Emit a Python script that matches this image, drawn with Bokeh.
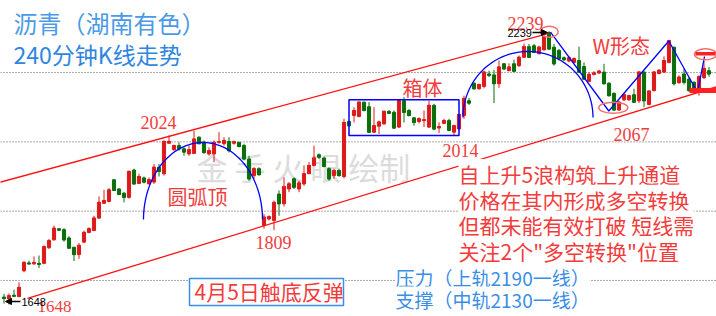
import numpy as np
from bokeh.plotting import figure
from bokeh.models import Range1d, Label, Span, Arrow, NormalHead
from bokeh.embed import file_html
from bokeh.resources import INLINE
from bokeh.core.properties import value

# ---------------- data (240-minute candles) ----------------
opens = [1664, 1660, 1668, 1665, 1721, 1738, 1736, 1737, 1737, 1771,
         1788, 1812, 1810, 1792, 1772, 1756, 1783, 1804, 1808, 1835,
         1867, 1871, 1918, 1898, 1889, 1880, 1939, 1910, 1922, 1909,
         1913, 1945, 1931, 1997, 1983, 1992, 1985, 1974, 1975, 2010,
         1999, 1974, 1974, 1999, 1996, 2001, 1997, 1999, 1992, 1963,
         1927, 1942, 1819, 1833, 1830, 1887, 1866, 1898, 1920, 1898,
         1909, 1931, 1949, 1972, 1965, 1942, 1927, 1938, 1925, 2044,
         2057, 2055, 2086, 2076, 2021, 2034, 2039, 2066, 2064, 2032,
         2089, 2068, 2052, 2044, 2046, 2032, 2079, 2030, 2040, 2046,
         2021, 2028, 2057, 2089, 2127, 2115, 2120, 2147, 2145, 2126,
         2169, 2154, 2169, 2165, 2183, 2206, 2208, 2191, 2199, 2237,
         2205, 2198, 2182, 2175, 2172, 2176, 2163, 2131, 2146, 2149,
         2151, 2127, 2105, 2069, 2091, 2091, 2102, 2089, 2151, 2081,
         2111, 2148, 2151, 2172, 2205, 2128, 2147, 2136, 2129, 2111,
         2139, 2154]
highs = [1671, 1672, 1680, 1696, 1742, 1743, 1752, 1754, 1776, 1790,
         1819, 1813, 1813, 1796, 1772, 1781, 1808, 1815, 1840, 1882,
         1896, 1900, 1918, 1900, 1891, 1938, 1942, 1931, 1925, 1923,
         1952, 1952, 2003, 2014, 1994, 1999, 1988, 1992, 2024, 2012,
         2003, 1988, 2003, 2021, 2010, 2010, 2003, 2000, 1996, 1970,
         1945, 1945, 1844, 1841, 1873, 1895, 1923, 1913, 1923, 1916,
         1949, 1956, 1992, 1975, 1968, 1945, 1942, 1942, 2050, 2046,
         2075, 2087, 2087, 2086, 2075, 2046, 2068, 2069, 2068, 2091,
         2097, 2071, 2053, 2053, 2068, 2089, 2082, 2042, 2050, 2050,
         2037, 2061, 2100, 2095, 2129, 2126, 2154, 2154, 2156, 2176,
         2170, 2170, 2178, 2187, 2213, 2212, 2212, 2208, 2234, 2239,
         2212, 2201, 2185, 2185, 2183, 2206, 2172, 2151, 2153, 2156,
         2169, 2129, 2107, 2088, 2104, 2102, 2115, 2153, 2153, 2111,
         2153, 2157, 2185, 2221, 2206, 2144, 2158, 2140, 2131, 2144,
         2175, 2162]
lows = [1650, 1648, 1664, 1664, 1718, 1734, 1734, 1727, 1735, 1768,
        1786, 1808, 1784, 1770, 1742, 1747, 1781, 1802, 1807, 1833,
        1866, 1869, 1894, 1885, 1869, 1877, 1908, 1909, 1910, 1908,
        1909, 1925, 1927, 1996, 1981, 1981, 1970, 1970, 1974, 1996,
        1974, 1970, 1956, 1996, 1992, 1977, 1994, 1988, 1960, 1916,
        1920, 1927, 1812, 1830, 1809, 1840, 1860, 1891, 1898, 1891,
        1905, 1931, 1947, 1963, 1945, 1916, 1920, 1925, 1921, 2033,
        2042, 2053, 2066, 2021, 2019, 2017, 2037, 2061, 2028, 2030,
        2042, 2055, 2035, 2040, 2032, 2030, 2025, 2019, 2039, 2023,
        2014, 2026, 2050, 2080, 2113, 2113, 2116, 2140, 2084, 2117,
        2156, 2153, 2151, 2162, 2182, 2182, 2193, 2189, 2198, 2199,
        2165, 2176, 2175, 2172, 2170, 2149, 2134, 2129, 2144, 2147,
        2124, 2098, 2068, 2067, 2088, 2089, 2084, 2084, 2075, 2079,
        2109, 2146, 2149, 2170, 2122, 2126, 2124, 2108, 2108, 2100,
        2136, 2141]
closes = [1661, 1667, 1666, 1685, 1739, 1736, 1739, 1735, 1773, 1786,
          1813, 1809, 1788, 1770, 1756, 1776, 1804, 1812, 1835, 1869,
          1873, 1896, 1895, 1886, 1880, 1936, 1909, 1925, 1913, 1918,
          1945, 1936, 2001, 2001, 1992, 1985, 1978, 1983, 2006, 1996,
          1977, 1981, 1999, 2000, 2003, 1981, 2000, 1990, 1963, 1920,
          1942, 1929, 1837, 1838, 1869, 1866, 1903, 1909, 1902, 1911,
          1931, 1949, 1965, 1967, 1947, 1920, 1938, 1927, 2042, 2035,
          2068, 2086, 2068, 2021, 2035, 2043, 2066, 2062, 2030, 2089,
          2064, 2057, 2042, 2050, 2048, 2079, 2028, 2033, 2046, 2025,
          2035, 2059, 2094, 2084, 2115, 2124, 2151, 2144, 2126, 2162,
          2158, 2162, 2153, 2183, 2206, 2183, 2194, 2205, 2228, 2201,
          2169, 2180, 2178, 2182, 2180, 2151, 2136, 2146, 2149, 2153,
          2126, 2100, 2069, 2086, 2102, 2100, 2086, 2151, 2089, 2110,
          2151, 2155, 2176, 2219, 2126, 2140, 2129, 2111, 2111, 2141,
          2159, 2147]

grid_levels = [1700, 1850, 2000, 2150]

# trend lines (bar index, price)
upper_channel_x = [-1, 109]
upper_channel_y = [1912, 2235]
lower_channel_x = [4.7, 142.5]
lower_channel_y = [1661, 2119]

# key price labels
low_1648 = 1648
low_1809 = 1809
high_2024 = 2024
low_2014 = 2014
high_2239 = 2239
low_2067 = 2067

# ---------------- layout helpers ----------------
W, H = 716, 316
BAR_PX = 5.0
X_START = -0.7
Y_TOP = 2306.0
PRICE_PER_PX = 684.0 / 316.0


def PX(x):
    return X_START + x / BAR_PX


def PY(y):
    return Y_TOP - y * PRICE_PER_PX


p = figure(width=W, height=H, x_range=Range1d(X_START, X_START + W / BAR_PX),
           y_range=Range1d(Y_TOP - H * PRICE_PER_PX, Y_TOP),
           toolbar_location=None, output_backend="svg", min_border=0,
           x_axis_type=None, y_axis_type=None)
p.grid.visible = False
p.outline_line_color = None
p.background_fill_color = "white"
p.border_fill_color = "white"

for lv in grid_levels:
    p.add_layout(Span(location=lv, dimension="width", line_color="#555555",
                      line_dash="1 2", line_width=1, level="underlay"))

CJK = "Noto Sans CJK SC"
# watermark
p.text(x=[PX(196)], y=[PY(180 - 0.45 * 31)], text=["金 手 火 眼 绘制"],
       text_font=value(CJK), text_font_size="31px",
       text_color="#dcdcdc", text_baseline="alphabetic")

RED = "#dc1a1a"
GREEN = "#0a6e0a"
idx = np.arange(len(opens))
o = np.array(opens, float)
c = np.array(closes, float)
hi = np.array(highs, float)
lo = np.array(lows, float)
up = c >= o
cols = [RED if u else GREEN for u in up]

p.segment(x0=idx, y0=lo, x1=idx, y1=hi, line_color=cols, line_width=1)
p.vbar(x=idx, width=0.62, top=np.maximum(o, c), bottom=np.minimum(o, c),
       fill_color=cols, line_color=cols, line_width=1)
p.segment(x0=idx - 0.31, y0=c, x1=idx + 0.31, y1=c, line_color=cols, line_width=1)

# channel lines
p.line(upper_channel_x, upper_channel_y, line_color="#ff1010", line_width=1.3)
p.line(lower_channel_x, lower_channel_y, line_color="#ff1010", line_width=1.3)

# box (箱体)
p.quad(left=[69], right=[91], top=[PY(99.3)], bottom=[PY(135)],
       fill_color=None, line_color="#0000ff", line_width=1.5)

BLUE = "#0000ff"
t = np.linspace(0, np.pi, 80)
cx, cy, rx, ry = 202.5, 219.0, 59.5, 77.0
p.line(PX(cx + rx * np.cos(t)), PY(cy - ry * np.sin(t)), line_color=BLUE, line_width=1.3)
cx, cy, rx, ry = 527.5, 117.0, 65.0, 66.0
p.line(PX(cx + rx * np.cos(t)), PY(cy - ry * np.sin(t)), line_color=BLUE, line_width=1.3)
wx = np.array([550, 608.3, 668.3, 697.0, 704.0])
wy = np.array([31.7, 110.5, 40.5, 92.0, 56.0])
p.line(PX(wx), PY(wy), line_color=BLUE, line_width=1.3)

ell_x = np.array([548.7, 612.8, 705.0])
ell_y = np.array([31.3, 107.2, 53.8])
p.ellipse(x=PX(ell_x), y=PY(ell_y), width=[18, 29, 22], height=[11, 11, 11],
          width_units="screen", height_units="screen",
          fill_color=None, line_color="#f07070", line_width=1.5)
p.segment(x0=[PX(695), PX(689)], y0=[PY(53.3), PY(90)], x1=[PX(715), PX(716)],
          y1=[PY(53.3), PY(90)], line_color="#ff2020", line_width=[3.5, 5])

LRED = "#f23c3c"
LBLUE = "#3a8ee6"
SERIF = "Liberation Serif"


def lab(x, y, text, size, color, font=CJK, bg=None):
    # y is the wanted alphabetic baseline in pixels from the top
    k = 0.45 if font == CJK else 0.28
    kw = {}
    if bg:
        kw["background_fill_color"] = bg
    p.add_layout(Label(x=PX(x), y=PY(y - k * size), text=text, text_font=font,
                       text_font_size=f"{size}px", text_color=color,
                       text_baseline="alphabetic", text_align="left", **kw))


# titles
lab(13, 33, "沥青（湖南有色）", 24, "#4a9ae8", bg="white")
lab(13, 64, "240分钟K线走势", 23, "#2f86e0", bg="white")

lab(140, 127, str(high_2024), 18, LRED, font=SERIF)
lab(37, 311, str(low_1648), 17, LRED, font=SERIF)
lab(255, 247, str(low_1809), 18, LRED, font=SERIF)
lab(442, 155, str(low_2014), 18, LRED, font=SERIF)
lab(507, 28, str(high_2239), 18, LRED, font=SERIF)
lab(613, 139, str(low_2067), 18, LRED, font=SERIF)

lab(167, 205, "圆弧顶", 20, LRED)
lab(402, 96, "箱体", 20, LRED)
lab(592, 54, "W形态", 20, LRED)

lines = ["自上升5浪构筑上升通道", "价格在其内形成多空转换",
         "但都未能有效打破 短线需", "关注2个\"多空转换\"位置"]
for i, s in enumerate(lines):
    lab(458, 183 + 25.7 * i, s, 21, LRED, bg="white")

lab(395, 285.5, "压力（上轨2190一线）", 19, LBLUE, bg="white")
lab(395, 308, "支撑（中轨2130一线）", 19, LBLUE, bg="white")

p.quad(left=[PX(189)], right=[PX(343)], top=[PY(278)], bottom=[PY(305)],
       fill_color="white", line_color=LBLUE, line_width=1.5)
lab(194, 300, "4月5日触底反弹", 21, LRED)

lab(21, 305, str(low_1648), 11, "black", font="Liberation Sans")
lab(507, 36, str(high_2239), 11, "black", font="Liberation Sans")
p.add_layout(Arrow(end=NormalHead(size=6, fill_color="black", line_color="black"),
                   x_start=PX(20), y_start=PY(301), x_end=PX(5), y_end=PY(301),
                   line_color="black", line_width=1.5))
p.add_layout(Arrow(end=NormalHead(size=6, fill_color="black", line_color="black"),
                   x_start=PX(532), y_start=PY(32), x_end=PX(547), y_end=PY(32),
                   line_color="black", line_width=1.5))

open("out.html", "w").write(file_html(p, INLINE))
